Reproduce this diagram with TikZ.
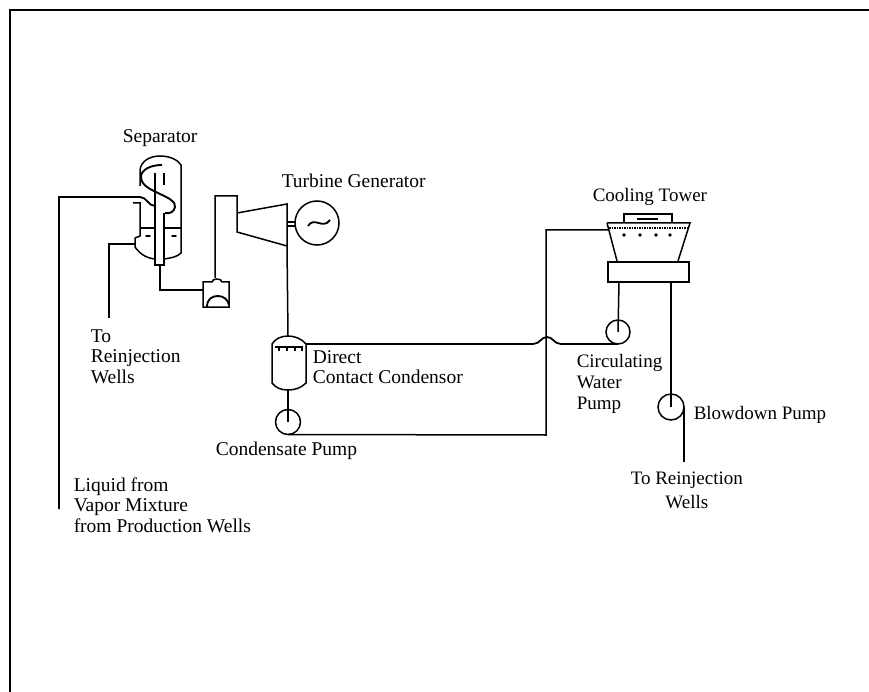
\documentclass[tikz,border=0pt]{standalone}
\usepackage{fontspec}
\setmainfont{Liberation Serif}
\begin{document}
\begin{tikzpicture}[x=1pt,y=-1pt,line width=1.5pt,
lbl/.style={inner sep=0pt,align=left,anchor=base west,font=\fontsize{19.5}{20.5}\selectfont},
lbr/.style={lbl,font=\fontsize{19}{21}\selectfont},
pump/.style={draw,circle,inner sep=0pt,outer sep=0pt,minimum size=25pt}]
\useasboundingbox (0,0) rectangle (869,692);
\draw [line width=2.8pt] (10,692)-- (10,10)-- (869,10);
% separator
\draw (140,186)-- (140,170) .. controls (141,161) and (150,156) .. (160,156) .. controls (170,156) and (178,160) .. (181,165)-- (181,253) .. controls (177,257) and (171,258) .. (164,259);
\draw (155,259) .. controls (146,258) and (140,254) .. (135,247)-- (135,238)-- (140,236)-- (140,203)-- (133,203);
\draw (140,228)-- (155,228);
\draw (164,228)-- (181,228);
\draw (155,173)-- (155,265)-- (164,265)-- (164,213);
\draw (164,173)-- (164,185);
\draw [line width=1.9pt] (162,165) .. controls (150,165) and (141,170) .. (141,177) .. controls (141,186) and (152,190) .. (160,194) .. controls (169,198) and (176,202) .. (175,207) .. controls (174,212) and (170,214) .. (165,213);
\fill (148,236) ellipse (3 and 1);
\fill (174,236) ellipse (3 and 1);
% pipes round the separator
\coordinate (feedend) at (59,509);
\coordinate (feedin) at (155,206);
\draw [line width=1.8pt] (feedend)-- (59,197)-- (140,197) .. controls (147,197) and (148,206) .. (feedin);
\coordinate (drainend) at (109,318);
\coordinate (drainin) at (135,244);
\draw (drainend)-- (109,244)-- (drainin);
% flash valve box
\coordinate (boxin) at (203,290);
\coordinate (boxtop) at (215,278);
\draw (160,265)-- (160,290)-- (boxin);
\draw (203,282)-- (212,282) .. controls (212,278) and (222,278) .. (222,282)-- (229,282)-- (229,307)-- (203,307)-- cycle;
\draw [line width=1.9pt] (207,307) .. controls (207,299) and (212,296) .. (218,296) .. controls (224,296) and (228,300) .. (229,305);
% turbine and generator
\draw (boxtop)-- (215,196)-- (237,196)-- (237,232)-- (287,246)-- (287,204)-- (237,213);
\node [pump,minimum size=44pt] (gen) at (317,223) {};
\draw [line width=1.8pt] (308,226) .. controls (314,216) and (323,230) .. (330,220);
\draw (287,222)-- (296,222);
\draw (287,226)-- (296,226);
% condensor
\coordinate (condtop) at (288,336);
\draw (272,344) .. controls (275,339) and (281,336) .. (condtop) .. controls (295,336) and (302,339) .. (306,344)-- (306,383) .. controls (301,388) and (295,390) .. (288,390) .. controls (281,390) and (276,388) .. (272,383)-- cycle;
\draw (275,347)-- (303,347);
\foreach \xa in {279,287,295,302}
\draw (\xa,347)-- (\xa,351);
\draw (287,246)-- (condtop);
\node [pump] (cpump) at (288,422) {};
\draw (288,390)-- (cpump.center);
% cooling tower
\draw (607,223)-- (690,223)-- (678,261);
\draw (607,223)-- (617,261);
\draw [densely dotted] (609,228)-- (688,228);
\draw [line width=1.9pt] (624,223)-- (624,214)-- (672,214)-- (672,223);
\draw [line width=2.2pt] (637,219)-- (658,219);
\foreach \xa in {624,640,656,670}
\fill (\xa,235) circle (1.8);
\draw (608,262) rectangle (689,282);
\coordinate (twrin) at (608,230);
% pumps at the tower
\node [pump,minimum size=24pt] (wpump) at (618,332) {};
\node [pump,minimum size=26pt] (bpump) at (671,407) {};
\draw (619,282)-- (wpump.center);
\draw (671,282)-- (bpump.center);
\coordinate (blowend) at (684,462);
\draw [line width=2pt] (bpump.east)-- (blowend);
% water lines
\draw [line width=1.8pt] (306,344)-- (533,344) .. controls (540,344) and (541,337) .. (547,337) .. controls (553,337) and (554,344) .. (561,344)-- (wpump.south);
\draw (cpump.south)-- (546,435)-- (546,230)-- (twrin);
% labels
\node [lbl] (seplbl) at (122,143) {Separator};
\node [lbl] (toreinj) at (90,383) {To\\Reinjection\\Wells};
\node [lbl] (turblbl) at (281,188) {Turbine Generator};
\node [lbr] (towerlbl) at (592,202) {Cooling Tower};
\node [lbl] (condlbl) at (312,383) {Direct\\[-1pt]Contact Condensor};
\node [lbr] (circlbl) at (576,409) {Circulating\\Water\\Pump};
\node [lbr] (blowlbl) at (693,419) {Blowdown Pump};
\node [lbl] (cpumplbl) at (215,455) {Condensate Pump};
\node [lbr,align=center] (wellslbl) at (630,508) {To Reinjection\\[3pt]Wells};
\node [lbl] (feedlbl) at (73,532) {Liquid from\\Vapor Mixture\\from Production Wells};
\end{tikzpicture}
\end{document}
